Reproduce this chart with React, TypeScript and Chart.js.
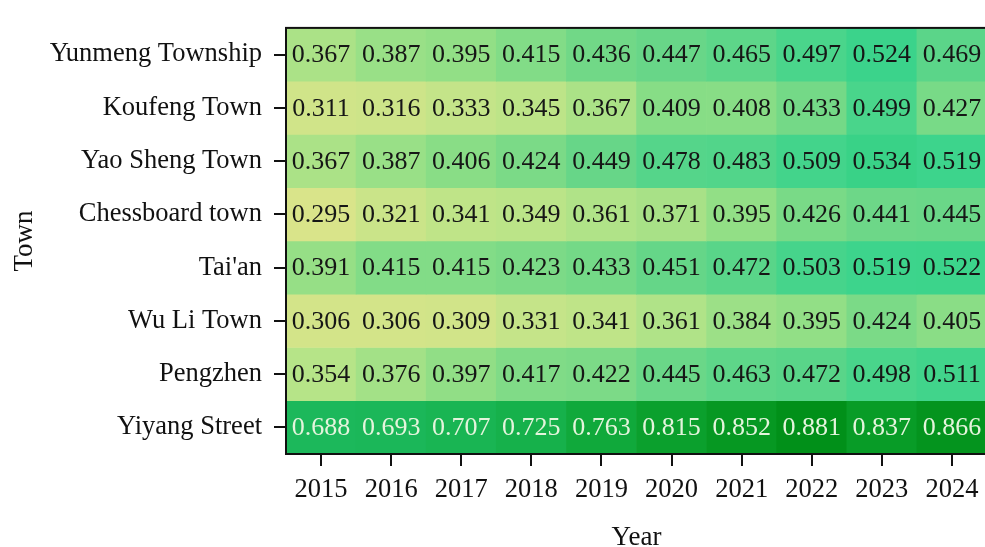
import React, { useEffect, useRef } from "react";
import { Chart, registerables } from "chart.js";

Chart.register(...registerables);

const years = ["2015", "2016", "2017", "2018", "2019", "2020", "2021", "2022", "2023", "2024"];
const towns = [
  "Yunmeng Township",
  "Koufeng Town",
  "Yao Sheng Town",
  "Chessboard town",
  "Tai'an",
  "Wu Li Town",
  "Pengzhen",
  "Yiyang Street",
];

const yunmeng = [0.367, 0.387, 0.395, 0.415, 0.436, 0.447, 0.465, 0.497, 0.524, 0.469];
const koufeng = [0.311, 0.316, 0.333, 0.345, 0.367, 0.409, 0.408, 0.433, 0.499, 0.427];
const yaoSheng = [0.367, 0.387, 0.406, 0.424, 0.449, 0.478, 0.483, 0.509, 0.534, 0.519];
const chessboard = [0.295, 0.321, 0.341, 0.349, 0.361, 0.371, 0.395, 0.426, 0.441, 0.445];
const taian = [0.391, 0.415, 0.415, 0.423, 0.433, 0.451, 0.472, 0.503, 0.519, 0.522];
const wuLi = [0.306, 0.306, 0.309, 0.331, 0.341, 0.361, 0.384, 0.395, 0.424, 0.405];
const pengzhen = [0.354, 0.376, 0.397, 0.417, 0.422, 0.445, 0.463, 0.472, 0.498, 0.511];
const yiyang = [0.688, 0.693, 0.707, 0.725, 0.763, 0.815, 0.852, 0.881, 0.837, 0.866];

const rows = [yunmeng, koufeng, yaoSheng, chessboard, taian, wuLi, pengzhen, yiyang];

// colormap stops: [value, r, g, b]
const cmapStops: number[][] = [
  [0.29, 220, 228, 138],
  [0.35, 186, 228, 136],
  [0.4, 142, 222, 134],
  [0.45, 102, 214, 136],
  [0.52, 60, 212, 140],
  [0.6, 42, 198, 114],
  [0.69, 28, 184, 90],
  [0.76, 16, 170, 60],
  [0.84, 8, 155, 38],
  [0.89, 0, 142, 22],
];

function colorFor(v: number): string {
  if (v <= cmapStops[0][0]) {
    const s = cmapStops[0];
    return `rgb(${s[1]},${s[2]},${s[3]})`;
  }
  for (let i = 1; i < cmapStops.length; i++) {
    const a = cmapStops[i - 1];
    const b = cmapStops[i];
    if (v <= b[0]) {
      const t = (v - a[0]) / (b[0] - a[0]);
      const r = Math.round(a[1] + (b[1] - a[1]) * t);
      const g = Math.round(a[2] + (b[2] - a[2]) * t);
      const bl = Math.round(a[3] + (b[3] - a[3]) * t);
      return `rgb(${r},${g},${bl})`;
    }
  }
  const s = cmapStops[cmapStops.length - 1];
  return `rgb(${s[1]},${s[2]},${s[3]})`;
}

const FONT = '"Liberation Serif", "Times New Roman", Times, serif';

const valueLabels = {
  id: "valueLabels",
  afterDatasetsDraw(chart: any) {
    const ctx = chart.ctx;
    ctx.save();
    ctx.font = `26px ${FONT}`;
    ctx.textAlign = "center";
    ctx.textBaseline = "middle";
    chart.data.datasets.forEach((ds: any, di: number) => {
      const meta = chart.getDatasetMeta(di);
      meta.data.forEach((el: any, j: number) => {
        const v = ds.values[j];
        ctx.fillStyle = v > 0.6 ? "#e4f4dc" : "#161616";
        ctx.fillText(v.toFixed(3), el.x, (el.y + el.base) / 2 + 1);
      });
    });
    ctx.restore();
  },
  afterDraw(chart: any) {
    const { ctx, chartArea } = chart;
    ctx.save();
    ctx.strokeStyle = "#111";
    ctx.lineWidth = 2;
    ctx.strokeRect(chartArea.left, chartArea.top, chartArea.right - chartArea.left, chartArea.bottom - chartArea.top);
    ctx.restore();
  },
};

export default function App() {
  const ref = useRef<HTMLCanvasElement | null>(null);

  useEffect(() => {
    if (!ref.current) return;
    Chart.defaults.font.family = FONT;
    const datasets = rows.map((vals, i) => ({
      label: towns[i],
      data: vals.map(() => [i - 0.5, i + 0.5]),
      values: vals,
      backgroundColor: vals.map(colorFor),
      borderWidth: 0,
      grouped: false,
      barPercentage: 1,
      categoryPercentage: 1,
    }));
    const chart = new Chart(ref.current, {
      type: "bar",
      data: { labels: years, datasets: datasets as any },
      options: {
        responsive: false,
        animation: false,
        devicePixelRatio: 1,
        layout: { padding: { top: 13, right: 3, left: 0, bottom: 0 } },
        plugins: { legend: { display: false }, tooltip: { enabled: false } },
        scales: {
          x: {
            type: "category",
            offset: true,
            grid: {
              offset: false,
              drawOnChartArea: false,
              drawTicks: true,
              tickLength: 12,
              color: "#111",
              lineWidth: 2,
            },
            border: { display: true, color: "#111", width: 2 },
            ticks: {
              font: { size: 26.5, family: FONT },
              color: "#111",
              padding: 8,
              maxRotation: 0,
              autoSkip: false,
            },
            title: {
              display: true,
              text: "Year",
              color: "#111",
              font: { size: 27, family: FONT, lineHeight: 1 },
              padding: { top: 0, bottom: 0 },
            },
            afterFit: (scale: any) => {
              scale.height = 97;
            },
          },
          y: {
            type: "linear",
            min: -0.5,
            max: 7.5,
            reverse: true,
            afterBuildTicks: (scale: any) => {
              scale.ticks = towns.map((_, i) => ({ value: i }));
            },
            grid: {
              drawOnChartArea: false,
              drawTicks: true,
              tickLength: 12,
              color: "#111",
              lineWidth: 2,
            },
            border: { display: true, color: "#111", width: 2 },
            ticks: {
              font: { size: 26.5, family: FONT },
              color: "#111",
              padding: 12,
              autoSkip: false,
              callback: (v: any) => towns[Number(v)] ?? "",
            },
            title: {
              display: true,
              text: "Town",
              color: "#111",
              font: { size: 27, family: FONT, lineHeight: 1 },
              padding: { top: 11, bottom: 0 },
            },
            afterFit: (scale: any) => {
              scale.width = 286;
            },
          },
        },
      },
      plugins: [valueLabels],
    });
    return () => chart.destroy();
  }, []);

  return (
    <div style={{ position: "fixed", left: 0, top: 0, width: 990, height: 551, background: "#fff" }}>
      <canvas ref={ref} width={990} height={551} style={{ display: "block", width: 990, height: 551 }} />
    </div>
  );
}
